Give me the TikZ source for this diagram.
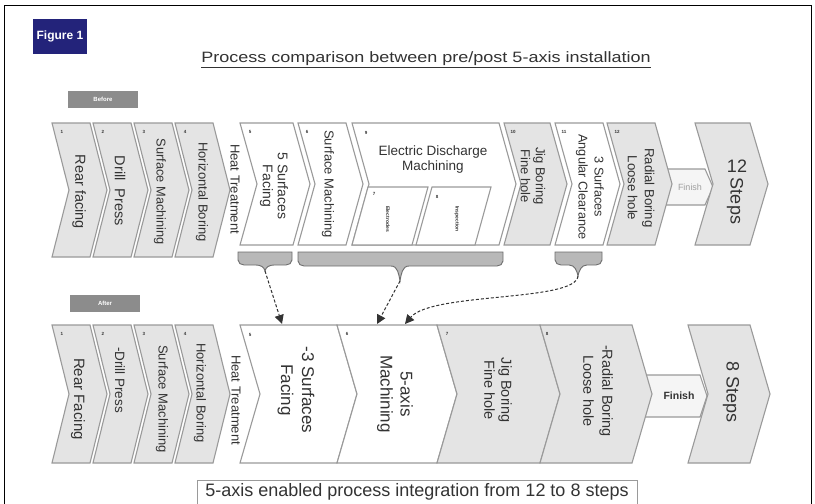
\documentclass[tikz,border=0pt]{standalone}
\usepackage{fontspec}
\setmainfont{Liberation Sans}
\usetikzlibrary{arrows.meta}
\definecolor{boxline}{HTML}{9A9A9A}
\definecolor{boxgray}{HTML}{E4E4E4}
\definecolor{txt}{HTML}{333333}
\definecolor{navy}{HTML}{23237A}
\definecolor{tagg}{HTML}{8C8C8C}
\definecolor{bracefill}{HTML}{B8B8B8}
\definecolor{braceline}{HTML}{6E6E6E}
\newcommand\fsz[2]{\fontsize{#1}{#2}\selectfont}
% name, x0, y0, w, h, d, style
\newcommand\chevbox[7]{%
 \path[#7] (#2,#3) -- ({#2+#4},#3) -- ({#2+#4+#6},{#3+#5/2}) -- ({#2+#4},{#3+#5}) -- (#2,{#3+#5}) -- ({#2+#6},{#3+#5/2}) -- cycle;
 \coordinate (#1) at ({#2+#4/2+#6/2},{#3+#5/2});}
% name, x1, x2, xm, ytop, ybar, ytip
\newcommand\bracepath[7]{%
 \path[bracestyle] (#2,#5) -- (#3,#5) -- (#3,{#6-5}) to[out=-90,in=0] ({#3-6},#6) -- ({#4+9},#6) to[out=180,in=80] (#4,#7) to[out=100,in=0] ({#4-9},#6) -- ({#2+6},#6) to[out=180,in=-90] (#2,{#6-5}) -- cycle;
 \coordinate (#1) at (#4,#7);}
\tikzset{
 chevg/.style={draw=boxline, fill=boxgray, line width=1.1pt, line join=miter},
 chevw/.style={draw=boxline, fill=white, line width=1.1pt, line join=miter},
 lbl/.style={text=txt, rotate=-90, align=center, inner sep=0pt},
 num/.style={text=txt, font=\fsz{4.5}{5}\bfseries, inner sep=0pt},
 tag/.style={fill=tagg, text=white, font=\fsz{6}{7}\bfseries, minimum width=70pt, minimum height=17pt, inner sep=0pt},
 bracestyle/.style={fill=bracefill, draw=braceline, line width=0.9pt},
 linkarrow/.style={draw=txt, line width=1pt, densely dashed, -{Triangle[length=9pt,width=9pt]}},
}
\begin{document}
\begin{tikzpicture}[x=1pt,y=-1pt]
\useasboundingbox (0,0) rectangle (815,504);
\fill[white] (0,0) rectangle (815,504);
\draw[black, line width=0.8pt] (4,520) -- (4,5) -- (811,5) -- (811,520);
% header
\node[fill=navy, text=white, font=\fsz{12}{14}\bfseries, minimum width=54pt, minimum height=35pt, inner sep=0pt] (fig) at (60,36) {Figure 1};
\node[text=txt, font=\fsz{15}{18}, inner sep=1pt] (title) at (426,60) {\scalebox{1.2}[1]{\underline{Process comparison between pre/post 5-axis installation}}};
\node[tag] (before) at (103,99) {Before};
\node[tag] (after) at (105,303) {After};
% ===== upper row =====
\chevbox{u1}{52}{123}{38}{134}{17}{chevg}
\chevbox{u2}{93}{123}{38}{134}{17}{chevg}
\chevbox{u3}{134}{123}{38}{134}{17}{chevg}
\chevbox{u4}{175}{123}{38}{134}{17}{chevg}
\chevbox{u5}{240}{123}{53}{122}{17}{chevw}
\chevbox{u6}{298}{123}{48}{122}{17}{chevw}
\chevbox{u9}{352}{123}{147}{122}{17}{chevw}
\chevbox{u10}{504}{123}{46}{122}{17}{chevg}
\chevbox{u11}{555}{123}{48}{122}{17}{chevw}
\path[draw=boxline, fill=gray!8, line width=1.1pt] (660,169) -- (705,169) -- (713,187) -- (705,205) -- (660,205) -- cycle;
\coordinate (ufin) at (690,187);
\chevbox{u12}{607}{123}{48}{122}{17}{chevg}
\chevbox{usteps}{695}{123}{55}{122}{18}{chevg}
% inner EDM boxes
\path[chevw] (368,187) -- (428,187) -- (412,245) -- (352,245) -- cycle;
\path[chevw] (432,187) -- (491,187) -- (475,245) -- (416,245) -- cycle;
% upper numbers
\node[num] (n1) at (62,132) {1};
\node[num] (n2) at (103,132) {2};
\node[num] (n3) at (144,132) {3};
\node[num] (n4) at (185,132) {4};
\node[num] (n5) at (250,132) {5};
\node[num] (n6) at (307,132) {6};
\node[num] (n9) at (366,133) {9};
\node[num] (n10) at (513,132) {10};
\node[num] (n11) at (564,132) {11};
\node[num] (n12) at (617,132) {12};
\node[num] (n7i) at (374,194) {7};
\node[num] (n8i) at (437,197) {8};
% upper labels
\node[lbl, font=\fsz{14.5}{17}] (l1) at (79,192) {Rear facing};
\node[lbl, font=\fsz{14.5}{17}] (l2) at (120,191) {Drill~~Press};
\node[lbl, font=\fsz{12.8}{15}] (l3) at (160,192) {Surface Machining};
\node[lbl, font=\fsz{13}{15}] (l4) at (202,192) {Horizontal Boring};
\node[lbl, font=\fsz{13}{15}] (lht) at (235,189) {Heat Treatment};
\node[lbl, font=\fsz{14}{15}] (l5) at (274,186) {5 Surfaces\\Facing};
\node[lbl, font=\fsz{13}{15}] (l6) at (328,184) {Surface Machining};
\node[text=txt, align=center, font=\fsz{13.5}{15}, inner sep=0pt] (l9) at (433,160) {Electric Discharge\\Machining};
\node[lbl, font=\fsz{5}{6}\bfseries] (l7i) at (388,219) {Electrodes};
\node[lbl, font=\fsz{5}{6}\bfseries] (l8i) at (457,219) {Inspection};
\node[lbl, font=\fsz{13}{15}] (l10) at (533,176) {Jig Boring\\Fine hole};
\node[lbl, font=\fsz{12.7}{16}] (l11) at (590,187) {3 Surfaces\\Angular Clearance};
\node[lbl, font=\fsz{13.2}{17}] (l12) at (641,188) {Radial Boring\\Loose hole};
\node[text=gray!75, font=\fsz{9}{10}, inner sep=0pt] (lfin) at (ufin) {Finish};
\node[text=txt, font=\fsz{18}{20}, inner sep=0pt] (l12a) at (737,166) {12};
\node[lbl, font=\fsz{18}{20}] (l12b) at (735,201) {Steps};
% braces
\bracepath{b1}{238}{292}{265}{252}{265}{271}
\bracepath{b2}{298}{503}{400}{252}{266}{281}
\bracepath{b3}{555}{602}{578}{252}{265}{276}
% ===== lower row =====
\chevbox{d1}{52}{325}{38}{138}{17}{chevg}
\chevbox{d2}{93}{325}{38}{138}{17}{chevg}
\chevbox{d3}{134}{325}{38}{138}{17}{chevg}
\chevbox{d4}{175}{325}{38}{138}{17}{chevg}
\chevbox{d5}{240}{325}{97}{138}{20}{chevw}
\chevbox{d6}{337}{325}{100}{138}{20}{chevw}
\chevbox{d7}{437}{325}{103}{138}{20}{chevg}
\path[draw=boxline, fill=gray!8, line width=1.1pt] (640,375) -- (700,375) -- (707,396) -- (700,417) -- (640,417) -- cycle;
\coordinate (dfin) at (679,396);
\chevbox{d8}{540}{325}{92}{138}{20}{chevg}
\chevbox{dsteps}{688}{325}{62}{138}{20}{chevg}
% lower numbers
\node[num] (m1) at (62,334) {1};
\node[num] (m2) at (103,334) {2};
\node[num] (m3) at (144,334) {3};
\node[num] (m4) at (185,334) {4};
\node[num] (m5) at (250,335) {5};
\node[num] (m6) at (347,334) {6};
\node[num] (m7) at (447,334) {7};
\node[num] (m8) at (547,334) {8};
% lower labels
\node[lbl, font=\fsz{15}{17}] (k1) at (78,399) {Rear Facing};
\node[lbl, font=\fsz{13.5}{16}] (k2) at (120,380) {-Drill Press};
\node[lbl, font=\fsz{13}{15}] (k3) at (162,399) {Surface Machining};
\node[lbl, font=\fsz{13}{15}] (k4) at (200,393) {Horizontal Boring};
\node[lbl, font=\fsz{13}{15}] (kht) at (236,400) {Heat Treatment};
\node[lbl, font=\fsz{17}{21}] (k5) at (296,390) {-3 Surfaces\\Facing};
\node[lbl, font=\fsz{17}{20}] (k6) at (395,394) {5-axis\\Machining};
\node[lbl, font=\fsz{14.5}{17}] (k7) at (498,390) {Jig Boring\\Fine hole};
\node[lbl, font=\fsz{14.5}{19}] (k8) at (598,391) {-Radial Boring\\Loose hole};
\node[text=txt, font=\fsz{10.5}{12}\bfseries, inner sep=0pt] (kfin) at (dfin) {Finish};
\node[lbl, font=\fsz{18}{20}] (k8s) at (731,392) {8 Steps};
% arrows
\coordinate (t1) at (282,324);
\coordinate (t2) at (377,324);
\coordinate (t3) at (405,324);
\draw[linkarrow] (b1) -- (t1);
\draw[linkarrow] (b2) -- (t2);
\draw[linkarrow] (b3) .. controls (576,302) and (432,292) .. (t3);
% caption
\node[draw=boxline, line width=1pt, text=txt, font=\fsz{18}{20}, minimum width=440pt, minimum height=24pt, inner sep=0pt] (cap) at (417,492) {5-axis enabled process integration from 12 to 8 steps};
\end{tikzpicture}
\end{document}
